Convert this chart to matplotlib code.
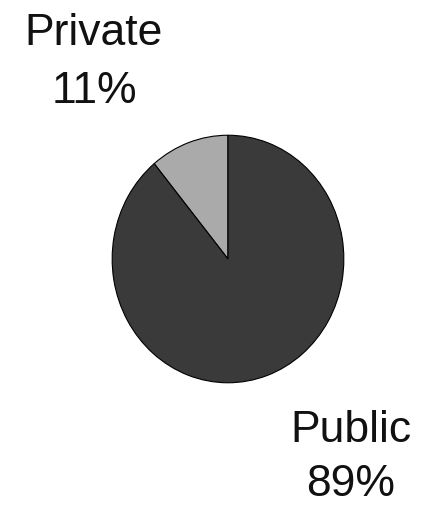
import matplotlib.pyplot as plt

# sector split
labels = ["Private", "Public"]
shares = [11, 89]
colors = ["#aaaaaa", "#3a3a3a"]

W, H = 421, 506
fig = plt.figure(figsize=(W / 100, H / 100), dpi=100)
fig.patch.set_facecolor("white")

# pie box in pixels (left, top, right, bottom); slightly taller than wide
left, top, right, bottom = 111, 135, 345, 385
ax = fig.add_axes([left / W, 1 - bottom / H, (right - left) / W, (bottom - top) / H])
ax.pie(shares, colors=colors, startangle=90, counterclock=True,
       wedgeprops=dict(edgecolor="black", linewidth=0.8))
ax.set_aspect("auto")
ax.set_xlim(-1.01, 1.01)
ax.set_ylim(-1.01, 1.01)
ax.axis("off")

font = dict(family="Liberation Sans", fontsize=32, color="#111111",
            ha="center", va="baseline")
# (x centre, baseline) in pixels for name and percentage
label_pos = {"Private": ((94, 45), (94, 103)), "Public": ((351, 442), (351, 496))}
for name, pct in zip(labels, shares):
    (x1, y1), (x2, y2) = label_pos[name]
    fig.text(x1 / W, 1 - y1 / H, name, **font)
    fig.text(x2 / W, 1 - y2 / H, f"{pct}%", **font)

fig.savefig("out.png", dpi=100)
